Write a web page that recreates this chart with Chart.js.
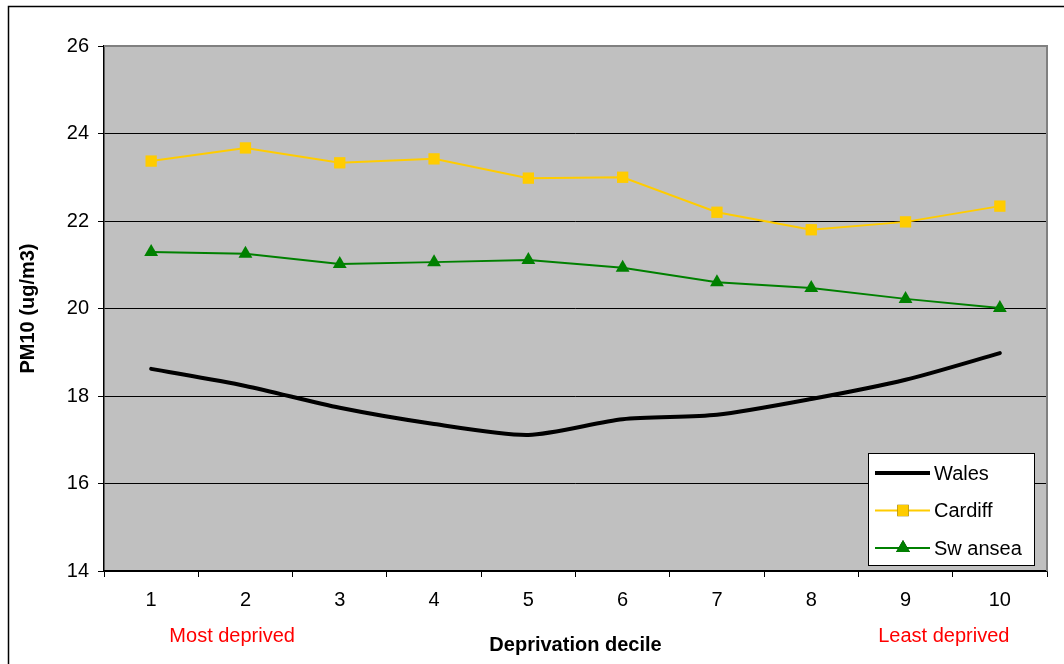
<!DOCTYPE html>
<html>
<head>
<meta charset="utf-8">
<script src="https://cdn.jsdelivr.net/npm/chart.js@4/dist/chart.umd.min.js"></script>
<style>
  html, body { margin: 0; padding: 0; background: #fff; }
  #wrap { width: 1064px; height: 664px; }
</style>
</head>
<body>
<div id="wrap"><canvas id="pm10_chart" width="1064" height="664"></canvas></div>
<script>
// deciles on the x axis
const deciles = ['1', '2', '3', '4', '5', '6', '7', '8', '9', '10'];

// PM10 values
const wales_pm10 = [18.62, 18.23, 17.73, 17.36, 17.11, 17.47, 17.57, 17.93, 18.37, 18.98];
const cardiff_pm10 = [23.37, 23.67, 23.33, 23.42, 22.98, 23.0, 22.2, 21.8, 21.98, 22.34];
const swansea_pm10 = [21.29, 21.25, 21.02, 21.06, 21.11, 20.93, 20.6, 20.47, 20.22, 20.01];

const y_ticks = [14, 16, 18, 20, 22, 24, 26];

const FONT = 'Liberation Sans, Arial, sans-serif';

// grey plot area and the outer frame
const frame_plugin = {
    id: 'frame',
    beforeDraw(chart) {
        const ctx = chart.ctx;
        const a = chart.chartArea;
        ctx.save();
        ctx.fillStyle = '#fff';
        ctx.fillRect(0, 0, chart.width, chart.height);
        ctx.strokeStyle = '#000';
        ctx.lineWidth = 1.5;
        ctx.strokeRect(8.5, 6.5, 1200, 800);
        ctx.fillStyle = '#c0c0c0';
        ctx.fillRect(a.left, a.top, a.right - a.left, a.bottom - a.top);
        ctx.restore();
    },
    afterDatasetsDraw(chart) {
        const ctx = chart.ctx;
        const a = chart.chartArea;
        ctx.save();
        ctx.strokeStyle = '#808080';
        ctx.lineWidth = 2;
        ctx.beginPath();
        ctx.moveTo(a.left, a.top);
        ctx.lineTo(a.right, a.top);
        ctx.lineTo(a.right, a.bottom);
        ctx.stroke();
        ctx.restore();
    }
};

// legend box inside the plot + the red end notes
const notes_plugin = {
    id: 'notes',
    afterDraw(chart) {
        const ctx = chart.ctx;
        const xs = chart.scales.x;
        ctx.save();
        ctx.font = '20px ' + FONT;
        ctx.fillStyle = '#ff0000';
        ctx.textAlign = 'center';
        ctx.textBaseline = 'middle';
        ctx.fillText('Most deprived', xs.getPixelForValue(0) + 81, 636);
        ctx.fillText('Least deprived', xs.getPixelForValue(9) - 56, 636);

        // legend
        const bx = 868, by = 453, bw = 166, bh = 112;
        ctx.fillStyle = '#fff';
        ctx.fillRect(bx, by, bw, bh);
        ctx.strokeStyle = '#000';
        ctx.lineWidth = 1;
        ctx.strokeRect(bx + 0.5, by + 0.5, bw, bh);
        const rows = chart.data.datasets;
        ctx.textAlign = 'left';
        ctx.fillStyle = '#000';
        rows.forEach((ds, i) => {
            const y = by + 20 + i * 37.5;
            ctx.strokeStyle = ds.borderColor;
            ctx.lineWidth = ds.borderWidth;
            ctx.beginPath();
            ctx.moveTo(bx + 7, y);
            ctx.lineTo(bx + 62, y);
            ctx.stroke();
            if (ds.pointStyle !== false) {
                Chart.helpers.drawPoint(ctx, {
                    pointStyle: ds.pointStyle,
                    radius: ds.pointRadius,
                    borderWidth: 0
                }, bx + 35, y);
                ctx.fillStyle = ds.pointBackgroundColor;
                ctx.fill();
            }
            ctx.fillStyle = '#000';
            ctx.fillText(ds.label, bx + 66, y + 1);
        });
        ctx.restore();
    }
};

new Chart(document.getElementById('pm10_chart').getContext('2d'), {
    type: 'line',
    data: {
        labels: deciles,
        datasets: [
            {
                label: 'Wales',
                data: wales_pm10,
                borderColor: '#000',
                borderWidth: 4,
                pointStyle: false,
                pointRadius: 0,
                tension: 0.25,
                borderCapStyle: 'round'
            },
            {
                label: 'Cardiff',
                data: cardiff_pm10,
                borderColor: '#ffcc00',
                borderWidth: 2,
                pointStyle: 'rect',
                pointRadius: 8,
                pointBackgroundColor: '#ffcc00',
                pointBorderWidth: 0,
                tension: 0
            },
            {
                label: 'Sw ansea',
                data: swansea_pm10,
                borderColor: '#008000',
                borderWidth: 2,
                pointStyle: 'triangle',
                pointRadius: 8,
                pointBackgroundColor: '#008000',
                pointBorderWidth: 0,
                tension: 0
            }
        ]
    },
    options: {
        responsive: false,
        animation: false,
        events: [],
        layout: { padding: { left: 0, top: 46, right: 17, bottom: 0 } },
        plugins: {
            legend: { display: false },
            tooltip: { enabled: false }
        },
        scales: {
            x: {
                offset: true,
                grid: {
                    offset: true,
                    drawOnChartArea: false,
                    color: '#000',
                    tickLength: 6,
                    tickWidth: 1
                },
                border: { color: '#000', width: 1.5 },
                ticks: {
                    color: '#000',
                    font: { family: FONT, size: 20 },
                    padding: 11,
                    maxRotation: 0
                },
                title: {
                    display: true,
                    text: 'Deprivation decile',
                    color: '#000',
                    font: { family: FONT, size: 20, weight: 'bold' },
                    padding: { top: 0, bottom: 7 }
                },
                afterFit(scale) { scale.height = 93; }
            },
            y: {
                min: 14,
                max: 26,
                afterBuildTicks(scale) { scale.ticks = y_ticks.map(v => ({ value: v })); },
                grid: {
                    color: '#000',
                    lineWidth: 1,
                    tickLength: 6
                },
                border: { color: '#000', width: 1.5 },
                ticks: {
                    color: '#000',
                    font: { family: FONT, size: 20 },
                    padding: 9
                },
                title: {
                    display: true,
                    text: 'PM10 (ug/m3)',
                    color: '#000',
                    font: { family: FONT, size: 20, weight: 'bold' },
                    padding: { top: 16, bottom: 0 }
                },
                afterFit(scale) { scale.width = 104; }
            }
        }
    },
    plugins: [frame_plugin, notes_plugin]
});
</script>
</body>
</html>
